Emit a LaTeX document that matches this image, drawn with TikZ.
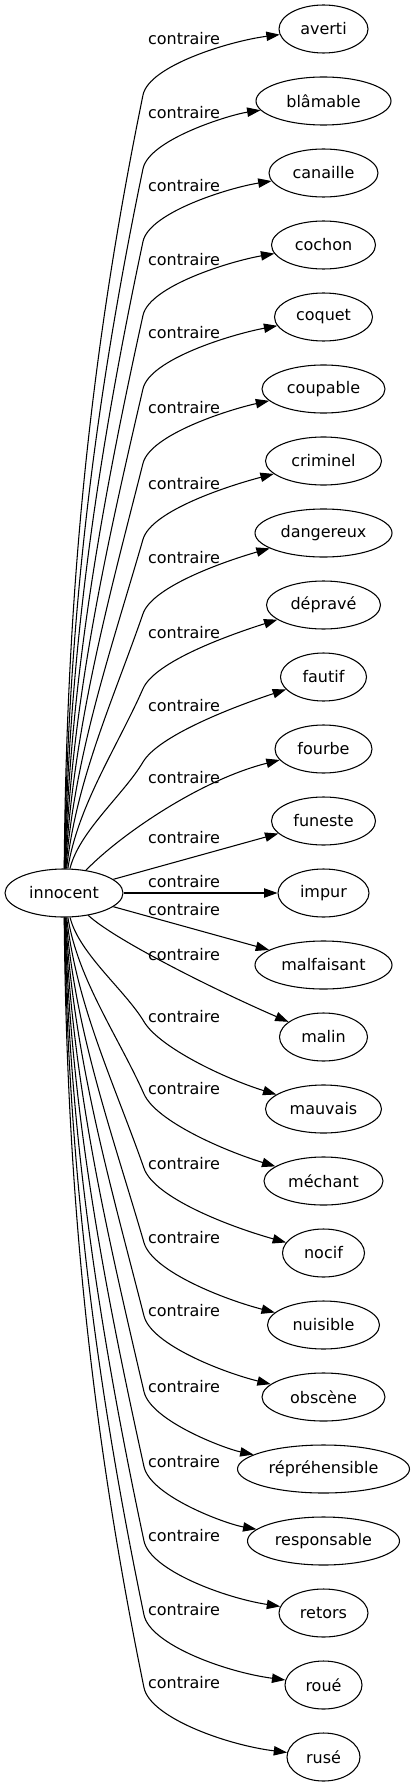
\documentclass[tikz,border=0pt]{standalone}
\usepackage{fontspec}
\setmainfont{DejaVu Sans}
\usetikzlibrary{shapes.geometric,arrows.meta}
\tikzset{
  tn/.style={draw, ellipse, line width=0.8pt, inner sep=0pt, minimum height=36pt, font=\fontsize{12pt}{14pt}\selectfont},
  lbl/.style={inner sep=0pt, font=\fontsize{12pt}{14pt}\selectfont},
  edge/.style={draw, line width=0.8pt, -{Triangle[length=10pt,width=7pt]}},
}
\newcommand{\topedge}[3]{%
  \pgfmathsetmacro{\eQy}{#2+56}%
  \pgfmathsetmacro{\eD}{869-\eQy}%
  \pgfmathsetmacro{\eS}{0.2+0.8*exp(-\eD/150)}%
  \pgfmathsetmacro{\eN}{sqrt(1+\eS*\eS)}%
  \pgfmathsetmacro{\eM}{0.35*\eD}%
  \pgfmathsetmacro{\eAx}{66+15*(1-\eD/800)}%
  \pgfmathsetmacro{\eAy}{869-\eM}%
  \pgfmathsetmacro{\eBx}{143-\eM*\eS/\eN}%
  \pgfmathsetmacro{\eBy}{\eQy+\eM/\eN}%
  \pgfmathsetmacro{\eCx}{143+30*\eS/\eN}%
  \pgfmathsetmacro{\eCy}{\eQy-30/\eN}%
  \pgfmathsetmacro{\eEy}{#2+2}%
  \draw[edge] (innocent) .. controls (\eAx,\eAy) and (\eBx,\eBy) .. (143,\eQy) .. controls (\eCx,\eCy) and (230,\eEy) .. (#1);%
  \node[lbl] (#3) at (184,#2) {contraire};%
}
\newcommand{\botedge}[3]{%
  \pgfmathsetmacro{\eQy}{#2+5}%
  \pgfmathsetmacro{\eD}{\eQy-917}%
  \pgfmathsetmacro{\eS}{0.2+0.8*exp(-\eD/150)}%
  \pgfmathsetmacro{\eN}{sqrt(1+\eS*\eS)}%
  \pgfmathsetmacro{\eM}{0.35*\eD}%
  \pgfmathsetmacro{\eAx}{66+15*(1-\eD/800)}%
  \pgfmathsetmacro{\eAy}{917+\eM}%
  \pgfmathsetmacro{\eBx}{144-\eM*\eS/\eN}%
  \pgfmathsetmacro{\eBy}{\eQy-\eM/\eN}%
  \pgfmathsetmacro{\eCx}{144+30*\eS/\eN}%
  \pgfmathsetmacro{\eCy}{\eQy+30/\eN}%
  \pgfmathsetmacro{\eEy}{#2+62}%
  \draw[edge] (innocent) .. controls (\eAx,\eAy) and (\eBx,\eBy) .. (144,\eQy) .. controls (\eCx,\eCy) and (225,\eEy) .. (#1);%
  \node[lbl] (#3) at (184,#2) {contraire};%
}
\begin{document}
\begin{tikzpicture}[x=0.75pt,y=-0.75pt]
\useasboundingbox (0,0) rectangle (415,1787);
\node[tn, minimum width=88.5pt] (innocent) at (64,893) {innocent};
\node[tn, minimum width=66.75pt] (averti) at (323.5,29) {averti};
\node[tn, minimum width=101.25pt] (blamable) at (323.5,101) {blâmable};
\node[tn, minimum width=81.75pt] (canaille) at (323.5,173) {canaille};
\node[tn, minimum width=78pt] (cochon) at (323.5,245) {cochon};
\node[tn, minimum width=73.5pt] (coquet) at (323.5,317) {coquet};
\node[tn, minimum width=92.25pt] (coupable) at (323.5,389) {coupable};
\node[tn, minimum width=87pt] (criminel) at (323.5,461) {criminel};
\node[tn, minimum width=102.75pt] (dangereux) at (323.5,533) {dangereux};
\node[tn, minimum width=85.5pt] (deprave) at (323.5,605) {dépravé};
\node[tn, minimum width=64.5pt] (fautif) at (323.5,677) {fautif};
\node[tn, minimum width=72.75pt] (fourbe) at (323.5,749) {fourbe};
\node[tn, minimum width=78pt] (funeste) at (323.5,821) {funeste};
\node[tn, minimum width=68.25pt] (impur) at (323.5,893) {impur};
\node[tn, minimum width=102.75pt] (malfaisant) at (323.5,965) {malfaisant};
\node[tn, minimum width=66pt] (malin) at (323.5,1037) {malin};
\node[tn, minimum width=87pt] (mauvais) at (323.5,1109) {mauvais};
\node[tn, minimum width=89.25pt] (mechant) at (323.5,1181) {méchant};
\node[tn, minimum width=61.5pt] (nocif) at (323.5,1253) {nocif};
\node[tn, minimum width=84pt] (nuisible) at (323.5,1325) {nuisible};
\node[tn, minimum width=92.25pt] (obscene) at (323.5,1397) {obscène};
\node[tn, minimum width=129pt] (reprehensible) at (323.5,1469) {répréhensible};
\node[tn, minimum width=114pt] (responsable) at (323.5,1541) {responsable};
\node[tn, minimum width=66.75pt] (retors) at (323.5,1613) {retors};
\node[tn, minimum width=57.75pt] (roue) at (323.5,1685) {roué};
\node[tn, minimum width=54.75pt] (ruse) at (323.5,1757) {rusé};
\topedge{averti}{39}{l1}
\topedge{blamable}{112.7}{l2}
\topedge{canaille}{185.5}{l3}
\topedge{cochon}{259.3}{l4}
\topedge{coquet}{332.7}{l5}
\topedge{coupable}{407.3}{l6}
\topedge{criminel}{483.3}{l7}
\topedge{dangereux}{557.7}{l8}
\topedge{deprave}{632.7}{l9}
\topedge{fautif}{706}{l10}
\draw[edge] (innocent) .. controls (120,835) and (200,780) .. (fourbe);
\node[lbl] (l11) at (184,777.3) {contraire};
\draw[edge] (innocent) -- (funeste);
\node[lbl] (l12) at (184,837.7) {contraire};
\draw[edge] (innocent) -- (impur);
\node[lbl] (l13) at (184,881.7) {contraire};
\draw[edge] (innocent) -- (malfaisant);
\node[lbl] (l14) at (184,909.3) {contraire};
\draw[edge] (innocent) .. controls (115,940) and (215,990) .. (malin);
\node[lbl] (l15) at (184,955) {contraire};
\botedge{mauvais}{1016.7}{l16}
\botedge{mechant}{1089}{l17}
\botedge{nocif}{1163.3}{l18}
\botedge{nuisible}{1237.7}{l19}
\botedge{obscene}{1311}{l20}
\botedge{reprehensible}{1386.7}{l21}
\botedge{responsable}{1461.7}{l22}
\botedge{retors}{1536}{l23}
\botedge{roue}{1610}{l24}
\botedge{ruse}{1682.7}{l25}
\end{tikzpicture}
\end{document}
